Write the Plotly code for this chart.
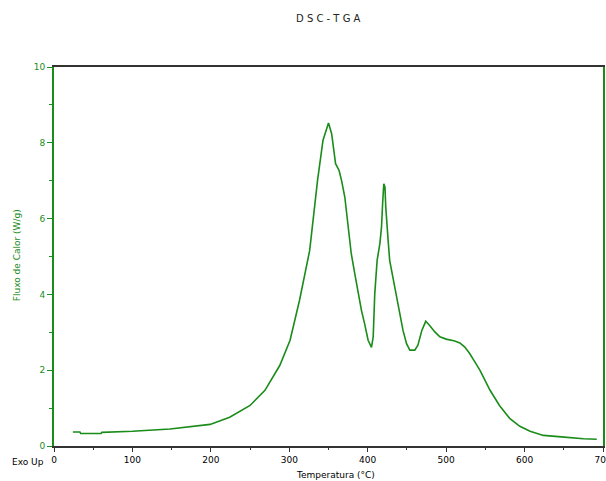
import plotly.graph_objects as go

temperature = [24, 33, 34, 60, 61, 100, 148, 199, 224, 250, 269, 288, 301, 313, 326, 336, 343, 350,
               354, 356, 359, 363.5, 366.6, 370.8, 375, 377, 379, 383.5, 387.8, 392, 396, 400.5, 404.8,
               407, 409, 412, 415.5, 417.6, 419, 420.5, 422, 423, 426, 428, 432, 436.7, 441, 445, 449.5,
               453.7, 460, 464, 469, 474, 479, 485.6, 492, 500, 511, 517.5, 523.8, 530, 536.6, 543,
               556, 568, 581, 594, 607, 624, 647, 675, 692]
heat_flow = [0.37, 0.37, 0.33, 0.33, 0.36, 0.39, 0.45, 0.57, 0.76, 1.07, 1.47, 2.13, 2.79, 3.84, 5.16, 7.0, 8.07, 8.52,
             8.24, 7.89, 7.45, 7.27, 7.01, 6.57, 5.78, 5.43, 5.08, 4.55, 4.02, 3.58, 3.23, 2.79, 2.60,
             2.88, 4.02, 4.90, 5.34, 5.78, 6.40, 6.92, 6.83, 6.31, 5.43, 4.90, 4.46, 3.93, 3.49, 3.05, 2.70,
             2.53, 2.53, 2.66, 3.05, 3.29, 3.18, 3.01, 2.88, 2.82, 2.77, 2.72, 2.61, 2.44, 2.22, 2.0,
             1.47, 1.07, 0.73, 0.52, 0.39, 0.28, 0.24, 0.19, 0.18]

x_ticks = [0, 100, 200, 300, 400, 500, 600, 700]
y_ticks = [0, 2, 4, 6, 8, 10]

GREEN = "#1a8c1a"
FONT = "DejaVu Sans"

fig = go.Figure()
fig.add_trace(go.Scatter(x=temperature, y=heat_flow, mode="lines",
                         line=dict(color=GREEN, width=1.6, shape="linear"),
                         hoverinfo="skip", showlegend=False))

fig.update_layout(
    width=606, height=481,
    margin=dict(l=54, r=3, t=67, b=35),
    paper_bgcolor="white", plot_bgcolor="white",
    font=dict(family=FONT, size=9, color="black"),
    xaxis=dict(range=[0, 700], tickvals=x_ticks, ticktext=[str(v) for v in x_ticks],
               automargin=False,
               showgrid=False, zeroline=False, showline=True, linecolor="#333333", linewidth=2,
               mirror=True, ticks="outside", ticklen=4, tickcolor="#333333",
               ticklabeloverflow="allow",
               tickfont=dict(family=FONT, size=9, color="black"),
               minor=dict(dtick=50, ticks="outside", ticklen=2, tickcolor="#333333")),
    yaxis=dict(range=[0, 10], tickvals=y_ticks, ticktext=[str(v) for v in y_ticks],
               automargin=False,
               showgrid=False, zeroline=False, showline=True, linecolor=GREEN, linewidth=2,
               mirror=True, ticks="outside", ticklen=5, tickcolor=GREEN,
               tickfont=dict(family=FONT, size=9, color=GREEN),
               minor=dict(dtick=1, ticks="outside", ticklen=3, tickcolor=GREEN)),
    annotations=[
        dict(text="D S C - T G A", xref="paper", yref="paper", x=0.4995, y=1.129,
             showarrow=False, font=dict(family=FONT, size=10, color="#222222"),
             xanchor="center", yanchor="middle"),
        dict(text="Temperatura (°C)", xref="paper", yref="paper", x=0.513, y=-0.0765,
             showarrow=False, font=dict(family=FONT, size=9, color="black"),
             xanchor="center", yanchor="middle"),
        dict(text="Exo Up", xref="paper", yref="paper", x=-0.047, y=-0.042,
             showarrow=False, font=dict(family=FONT, size=9, color="black"),
             xanchor="center", yanchor="middle"),
        dict(text="Fluxo de Calor (W/g)", xref="paper", yref="paper", x=-0.067, y=0.504,
             showarrow=False, textangle=-90, font=dict(family=FONT, size=9, color=GREEN),
             xanchor="center", yanchor="middle"),
    ],
)

fig.write_html("out.html", config={"displayModeBar": False},
               post_script="document.body.style.margin='0';document.body.style.overflow='hidden';")
